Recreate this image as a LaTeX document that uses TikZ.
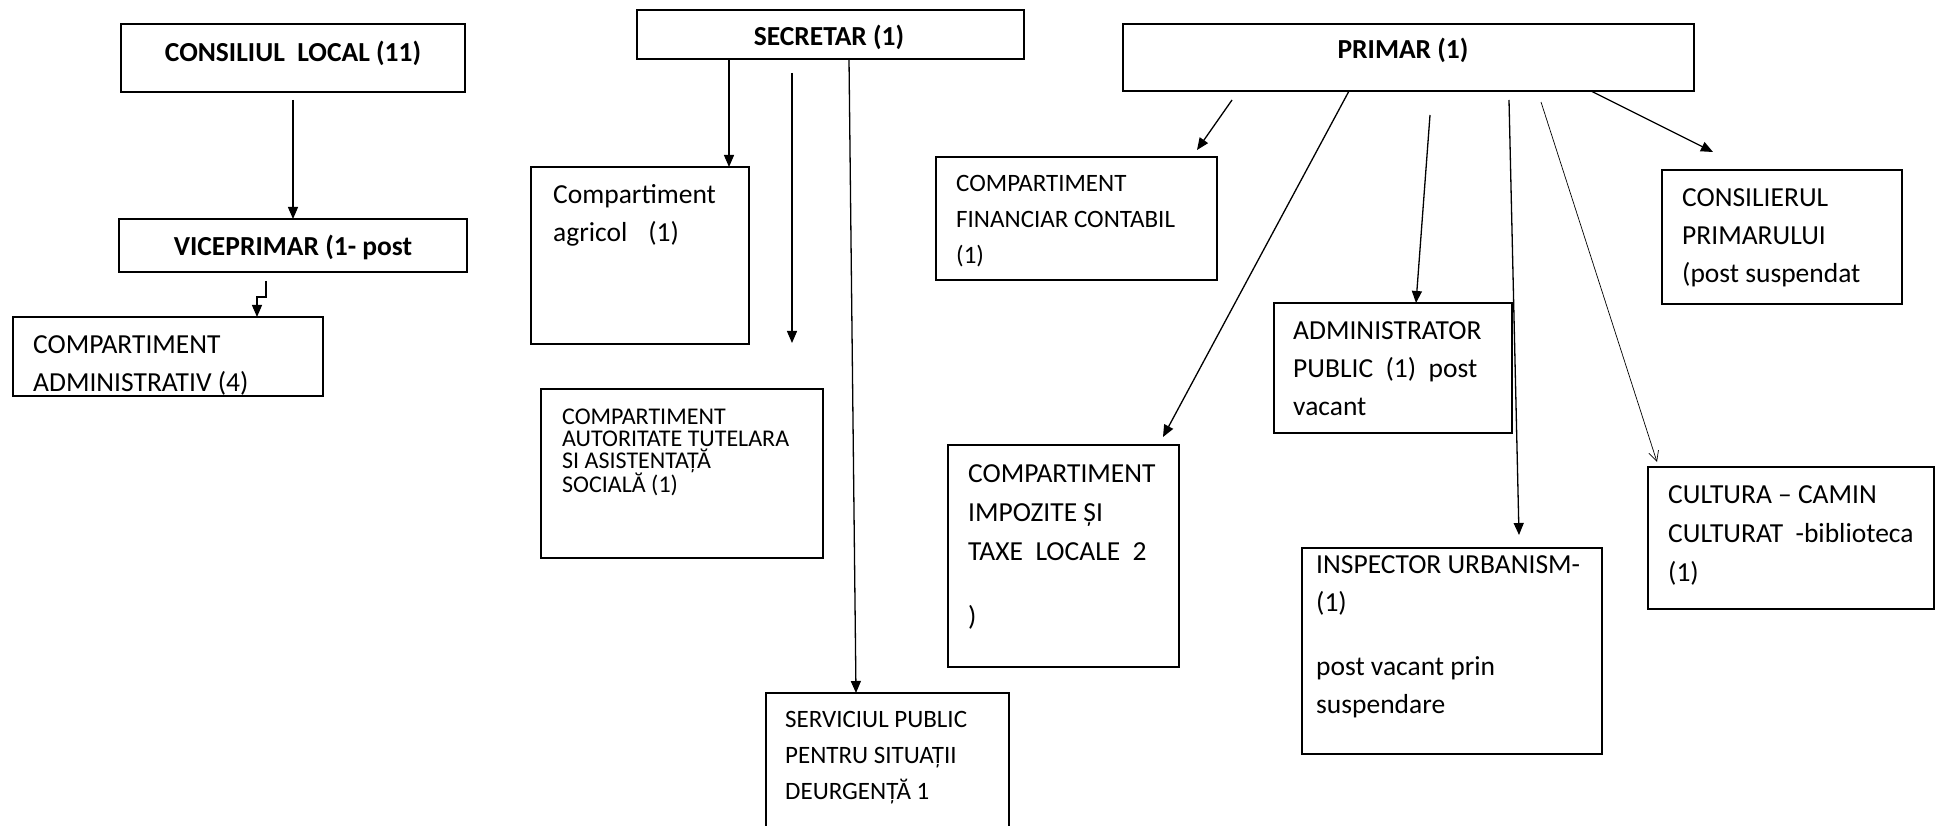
\documentclass[tikz,border=0pt]{standalone}
\usepackage{fontspec}
\setmainfont{Carlito}
\usetikzlibrary{arrows.meta}
\begin{document}
\begin{tikzpicture}[x=1pt,y=-1pt,
  box/.style={draw, line width=1.3pt, inner sep=0pt, outer sep=0pt, anchor=north west},
  ttl/.style={inner sep=0pt, anchor=base, font=\bfseries\fontsize{27.5pt}{33pt}\selectfont},
  txt/.style={inner sep=0pt, anchor=base west, font=\fontsize{27.5pt}{38pt}\selectfont},
  txtsm/.style={inner sep=0pt, anchor=base west, font=\fontsize{25pt}{36pt}\selectfont},
  arr/.style={line width=1.3pt, -{Triangle[length=12pt,width=10pt]}},
  thinarr/.style={line width=0.7pt, -{Straight Barb[length=10pt,width=10pt,line width=0.7pt]}}]
\fill[white] (0,0) rectangle (1936,826);
\useasboundingbox (0,0) rectangle (1936,826);

% boxes
\node[box, minimum width=344pt, minimum height=68pt] (cons) at (121,24) {};
\node[box, minimum width=348pt, minimum height=53pt] (vice) at (119,219) {};
\node[box, minimum width=310pt, minimum height=79pt] (adm) at (13,317) {};
\node[box, minimum width=387pt, minimum height=49pt] (sec) at (637,10) {};
\node[box, minimum width=218pt, minimum height=177pt] (agr) at (531,167) {};
\node[box, minimum width=282pt, minimum height=169pt] (aut) at (541,389) {};
\node[box, minimum width=243pt, minimum height=170pt] (serv) at (766,693) {};
\node[box, minimum width=281pt, minimum height=123pt] (fin) at (936,157) {};
\node[box, minimum width=231pt, minimum height=222pt] (imp) at (948,445) {};
\node[box, minimum width=571pt, minimum height=67pt] (prim) at (1123,24) {};
\node[box, minimum width=238pt, minimum height=130pt] (admp) at (1274,303) {};
\node[box, minimum width=240pt, minimum height=134pt] (cons2) at (1662,170) {};
\node[box, minimum width=300pt, minimum height=206pt] (insp) at (1302,548) {};
\node[box, minimum width=286pt, minimum height=142pt] (cul) at (1648,467) {};

% texts
\node[ttl] (cons-t) at (293,62) {CONSILIUL\ \ LOCAL (11)};
\node[ttl] (vice-t) at (293,256) {VICEPRIMAR (1- post};
\node[ttl] (sec-t) at (829,46) {SECRETAR (1)};
\node[ttl] (prim-t) at (1403,59) {PRIMAR (1)};
\node[txt] (adm-t) at (33,353) {\parbox[t]{400pt}{COMPARTIMENT\\ADMINISTRATIV (4)}};
\node[txt] (agr-t) at (553,204) {\parbox[t]{400pt}{Compartiment\\agricol\hspace{21pt}(1)}};
\node[inner sep=0pt, anchor=base west, font=\fontsize{24pt}{22pt}\selectfont] (aut-t) at (562,424)
  {\parbox[t]{400pt}{COMPARTIMENT\\AUTORITATE TUTELARA\\SI ASISTENTAȚĂ\\SOCIALĂ (1)}};
\node[txtsm] (fin-t) at (956,192) {\parbox[t]{400pt}{COMPARTIMENT\\FINANCIAR CONTABIL\\(1)}};
\node[inner sep=0pt, anchor=base west, font=\fontsize{27.5pt}{39pt}\selectfont] (imp-t) at (968,482)
  {\parbox[t]{400pt}{COMPARTIMENT\\IMPOZITE ȘI\\TAXE\ \ LOCALE\ \ 2\\[26pt])}};
\node[txt] (admp-t) at (1293,340) {\parbox[t]{400pt}{ADMINISTRATOR\\PUBLIC\ \ (1)\ \ post\\vacant}};
\node[txt] (cons2-t) at (1682,207) {\parbox[t]{400pt}{CONSILIERUL\\PRIMARULUI\\(post suspendat}};
\node[txt] (insp-t) at (1316,573) {\parbox[t]{400pt}{INSPECTOR URBANISM-\\(1)\\[26pt]post vacant prin\\suspendare}};
\node[inner sep=0pt, anchor=base west, font=\fontsize{27.5pt}{39pt}\selectfont] (cul-t) at (1668,503)
  {\parbox[t]{400pt}{CULTURA – CAMIN\\CULTURAT\ \ -biblioteca\\(1)}};
\node[txtsm] (serv-t) at (785,727) {\parbox[t]{400pt}{SERVICIUL PUBLIC\\PENTRU SITUAȚII\\DEURGENȚĂ 1}};

% free connector ends
\coordinate (f1) at (792,73);
\coordinate (f2) at (792,343);
\coordinate (f3) at (1232,100);
\coordinate (f5) at (1430,115);
\coordinate (f6) at (1509,100);
\coordinate (f7) at (1541,102);

% connectors
\draw[arr] ([yshift=-8pt]cons.south) -- (vice.north);
\draw[arr] ([xshift=-27pt,yshift=-9pt]vice.south) -- ++(0,16) -- ++(-9,0) -- ([xshift=89pt]adm.north);
\draw[arr] ([xshift=-101.5pt]sec.south) -- ([xshift=89pt]agr.north);
\draw[arr] (f1) -- (f2);
\draw[arr] ([xshift=18.5pt]sec.south) -- ([xshift=-31.5pt]serv.north);
\draw[arr] (f3) -- ([xshift=120.5pt,yshift=7pt]fin.north);
\draw[arr] ([xshift=-59.5pt]prim.south) -- ([xshift=99.5pt,yshift=8pt]imp.north);
\draw[arr] (f5) -- ([xshift=23pt]admp.north);
\draw[arr] (f6) -- ([xshift=67pt,yshift=13pt]insp.north);
\draw[thinarr] (f7) -- ([xshift=-134pt,yshift=5pt]cul.north);
\draw[arr] ([xshift=182.5pt]prim.south) -- ([xshift=-69pt,yshift=18pt]cons2.north);
\end{tikzpicture}
\end{document}
